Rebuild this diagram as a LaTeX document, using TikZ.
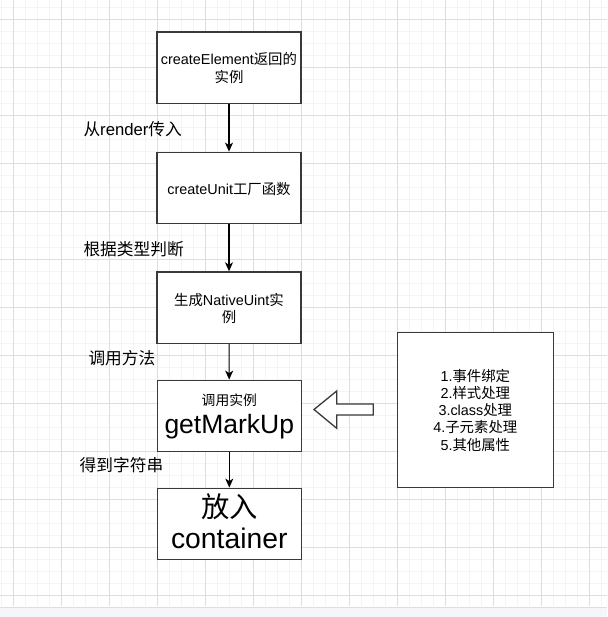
\documentclass[tikz,border=0pt]{standalone}
\usepackage{fontspec}
\setmainfont{Liberation Sans}
\newfontfamily\cjkfont{Noto Sans CJK SC}
\newcommand{\zh}[1]{{\cjkfont #1}}
\usetikzlibrary{arrows.meta}
\definecolor{minorgrid}{HTML}{F4F4F4}
\definecolor{majorgrid}{HTML}{DEDEDE}
\definecolor{boxgray}{HTML}{3A3A3A}
\definecolor{barbg}{HTML}{F5F6F8}
\begin{document}
\begin{tikzpicture}[x=1pt,y=-1pt,
  box/.style={draw=boxgray, line width=1.3pt, fill=white, minimum width=144pt, minimum height=71.5pt, inner sep=0pt},
  txt/.style={inner sep=0pt, anchor=base, font=\fontsize{14.4}{17.3}\selectfont},
  lbl/.style={inner sep=0pt, anchor=base west, font=\fontsize{16.7}{20}\selectfont},
  arr/.style={-{Stealth[length=9pt,width=8pt,inset=2.5pt]}, line width=1.1pt, black},
  minorl/.style={draw=minorgrid, line width=0.8pt},
  majorl/.style={draw=majorgrid, line width=0.9pt}]
\useasboundingbox (0,0) rectangle (607,617);
\fill[white] (0,0) rectangle (607,607);
% grid
\foreach \i in {0,...,50} { \draw[minorl] ({1.5+12*\i},0) -- ({1.5+12*\i},606); }
\foreach \i in {0,...,49} { \draw[minorl] (0,{7.3+12*\i}) -- (607,{7.3+12*\i}); }
\foreach \i in {0,...,12} { \draw[majorl] ({13.5+48*\i},0) -- ({13.5+48*\i},606); }
\foreach \i in {0,...,12} { \draw[majorl] (0,{19.3+48*\i}) -- (607,{19.3+48*\i}); }
\fill[barbg] (0,607) rectangle (607,617);
\draw[majorgrid, line width=0.8pt] (0,607) -- (607,607);

% boxes
\node[box] (b1) at (229,67.7) {};
\node[box] (b2) at (229,188) {};
\node[box] (b3) at (229,307.7) {};
\node[box] (b4) at (229.3,416) {};
\node[box] (b5) at (229.3,524) {};
\node[box, minimum width=156pt, minimum height=155.5pt] (r) at (475.3,410) {};

% box texts
\node[txt] (t1a) at (229,65) {createElement\zh{返回的}};
\node[txt] (t1b) at (229,82.3) {\zh{实例}};
\node[txt] (t2) at (229,195) {createUnit\zh{工厂函数}};
\node[txt] (t3a) at (229,305) {\zh{生成}NativeUint\zh{实}};
\node[txt] (t3b) at (229,322.3) {\zh{例}};
\node[txt, font=\fontsize{13.8}{16}\selectfont] (t4a) at (229.3,405.5) {\zh{调用实例}};
\node[txt, font=\fontsize{26.5}{30}\selectfont] (t4b) at (229.3,433.3) {getMarkUp};
\node[txt, font=\fontsize{28.3}{32}\selectfont] (t5a) at (229.3,517.5) {\zh{放入}};
\node[txt, font=\fontsize{28.3}{32}\selectfont] (t5b) at (229.3,548.3) {container};

\node[txt] (r1) at (475.3,381) {1.\zh{事件绑定}};
\node[txt] (r2) at (475.3,398.3) {2.\zh{样式处理}};
\node[txt] (r3) at (475.3,415.6) {3.class\zh{处理}};
\node[txt] (r4) at (475.3,432.9) {4.\zh{子元素处理}};
\node[txt] (r5) at (475.3,450.2) {5.\zh{其他属性}};

% labels
\node[lbl] (l1) at (83.3,136) {\zh{从}render\zh{传入}};
\node[lbl] (l2) at (83.3,255) {\zh{根据类型判断}};
\node[lbl] (l3) at (88.3,364) {\zh{调用方法}};
\node[lbl] (l4) at (79.5,471) {\zh{得到字符串}};

% connectors
\draw[arr] (b1) -- (b2);
\draw[arr] (b2) -- (b3);
\draw[arr] (b3) -- (b4);
\draw[arr] (b4) -- (b5);

% hollow arrow
\draw[boxgray, line width=1.3pt, fill=white, line join=miter]
  (314,409.5) -- (336.7,391) -- (336.7,404) -- (373.3,404) -- (373.3,415)
  -- (336.7,415) -- (336.7,428.3) -- cycle;
\end{tikzpicture}
\end{document}
